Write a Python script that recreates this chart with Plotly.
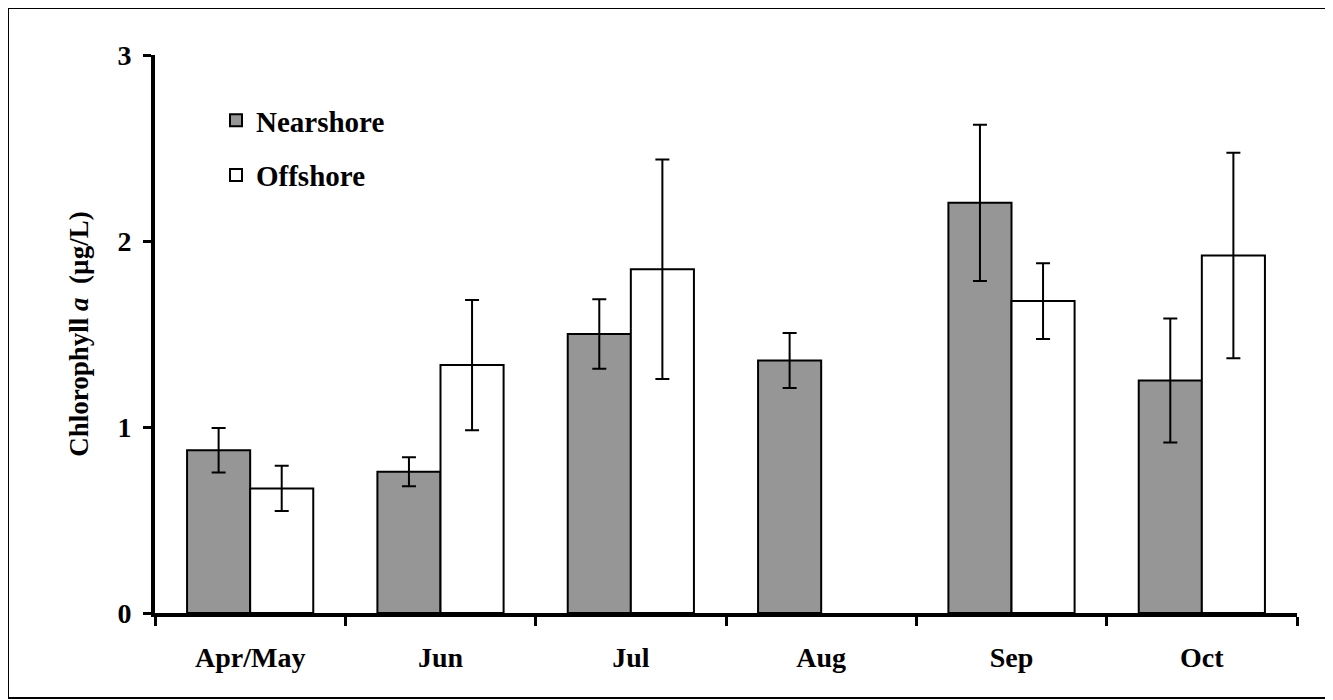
import plotly.graph_objects as go

months = ["Apr/May", "Jun", "Jul", "Aug", "Sep", "Oct"]
nearshore = [0.875, 0.76, 1.50, 1.358, 2.205, 1.25]
nearshore_err = [0.12, 0.078, 0.187, 0.148, 0.42, 0.333]
offshore = [0.67, 1.333, 1.848, None, 1.677, 1.922]
offshore_err = [0.122, 0.35, 0.59, None, 0.204, 0.553]
y_ticks = [0, 1, 2, 3]

FONT = "Liberation Serif"
# the page has an 8px body margin, so the figure starts at screen (8, 8)
OFF = 8
W, H = 1333 - 2 * OFF, 700 - OFF
L, T = 155 - OFF, 55 - OFF
PW, PH = 1142, 558
R, B = W - L - PW, H - T - PH


def px_x(p):
    """screen pixel x -> paper x"""
    return (p - OFF - L) / PW


def px_y(p):
    """screen pixel y -> paper y"""
    return (T + PH - (p - OFF)) / PH


fig = go.Figure()
fig.add_trace(go.Bar(
    x=months, y=nearshore, name="<b>Nearshore</b>",
    marker=dict(color="#969696", line=dict(color="black", width=2)),
    error_y=dict(type="data", array=nearshore_err, visible=True,
                 color="black", thickness=2, width=7),
    legendgroup="a",
))
fig.add_trace(go.Bar(
    x=months, y=offshore, name="<b>Offshore</b>",
    marker=dict(color="white", line=dict(color="black", width=2)),
    error_y=dict(type="data", array=offshore_err, visible=True,
                 color="black", thickness=2, width=7),
    legendgroup="b",
))

fig.update_layout(
    width=W, height=H,
    margin=dict(l=L, r=R, t=T, b=B, autoexpand=False),
    paper_bgcolor="white", plot_bgcolor="white",
    barmode="group", bargap=0.337, bargroupgap=0,
    font=dict(family=FONT, color="black", size=28),
    showlegend=True,
    legend=dict(
        x=px_x(216), y=px_y(95), xanchor="left", yanchor="top",
        font=dict(family=FONT, size=29, color="black"),
        bgcolor="rgba(0,0,0,0)", traceorder="grouped",
        tracegroupgap=14, itemwidth=30,
    ),
    xaxis=dict(
        range=[-0.5, 5.5], showline=True, linecolor="black", linewidth=4,
        ticks="outside", tickson="boundaries", ticklen=9, tickwidth=3,
        tickcolor="black", showgrid=False, zeroline=False,
        tickfont=dict(family=FONT, size=28, color="black", weight="bold"),
        ticklabelstandoff=16,
    ),
    yaxis=dict(
        range=[0, 3], tickvals=y_ticks, ticktext=[f"<b>{v}</b>" for v in y_ticks],
        showline=True, linecolor="black", linewidth=4,
        ticks="outside", ticklen=8, tickwidth=3, tickcolor="black",
        showgrid=False, zeroline=False,
        tickfont=dict(family=FONT, size=28, color="black"),
        ticklabelstandoff=6,
        title=dict(text="<b>Chlorophyll <i>a</i>  (µg/L)</b>",
                   font=dict(family=FONT, size=27, color="black"),
                   standoff=22),
    ),
    shapes=[dict(
        type="rect", xref="paper", yref="paper",
        x0=(0 - L) / PW, x1=(1318 - L) / PW,
        y0=(T + PH - 690) / PH, y1=(T + PH + 0) / PH,
        line=dict(color="black", width=2), fillcolor="rgba(0,0,0,0)",
        layer="below",
    )],
)

fig.write_html("out.html")
